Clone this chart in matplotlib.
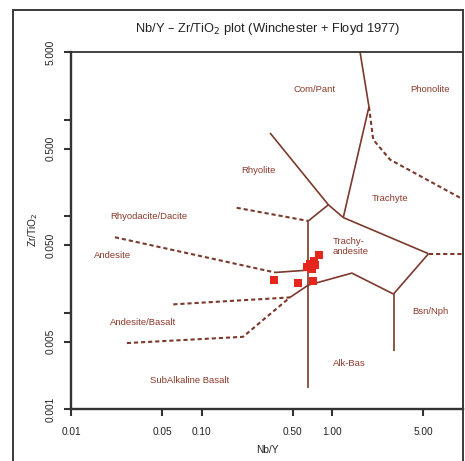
import matplotlib
matplotlib.use("Agg")
import matplotlib.pyplot as plt
from matplotlib.lines import Line2D

plt.rcParams['font.family'] = ['Liberation Sans', 'DejaVu Sans']

# Sample compositions (Nb/Y, Zr/TiO2)
nb_y = [0.80, 0.73, 0.68, 0.64, 0.70, 0.74, 0.36, 0.545, 0.72]
zr_tio2 = [0.0394, 0.0342, 0.0322, 0.0297, 0.0286, 0.0311, 0.0220, 0.0205, 0.0215]

# Field boundaries, solid
solid_lines = {
    "alk_main": [(0.658, 0.0891), (0.658, 0.00167)],
    "rhy_trachy": [(0.658, 0.0891), (0.938, 0.131)],
    "rhy_upper": [(0.335, 0.726), (0.938, 0.131), (1.22, 0.0966)],
    "compant_trachyte": [(1.64, 5.0), (1.92, 1.355), (1.22, 0.0966)],
    "trachyte_ta": [(1.22, 0.0966), (5.49, 0.0408)],
    "ta_bsn": [(5.49, 0.0408), (2.96, 0.0156)],
    "bsn_alk": [(2.96, 0.0156), (2.96, 0.00404)],
    "andesite_ta": [(0.366, 0.0261), (0.658, 0.0276)],
    "ta_lower": [(0.476, 0.0144), (0.658, 0.0193), (1.42, 0.0257), (2.96, 0.0156)],
}

# Field boundaries, dashed
dashed_lines = {
    "rhyodacite_rhyolite": [(0.186, 0.122), (0.658, 0.0891)],
    "andesite_rhyodacite": [(0.0217, 0.0604), (0.366, 0.0261)],
    "andbas_andesite": [(0.0608, 0.0122), (0.476, 0.0144)],
    "subalk_andbas": [(0.0268, 0.00485), (0.208, 0.00563), (0.476, 0.0144)],
    "trachyte_phonolite": [(1.92, 1.355), (2.07, 0.619), (2.78, 0.385), (10.0, 0.15)],
    "phonolite_bsn": [(5.49, 0.0408), (10.0, 0.0408)],
}

# Field names and their positions
field_names = ["Com/Pant", "Phonolite", "Rhyolite", "Trachyte", "Trachy-\nandesite",
               "Rhyodacite/Dacite", "Andesite", "Andesite/Basalt", "Bsn/Nph",
               "Alk-Bas", "SubAlkaline Basalt"]
field_x = [0.74, 5.64, 0.272, 2.78, 1.01, 0.0398, 0.0207, 0.0358, 5.64, 1.35, 0.0807]
field_y = [2.03, 2.03, 0.299, 0.151, 0.0489, 0.100, 0.0388, 0.00785, 0.01026, 0.00297, 0.0020]
field_ha = ["center", "center", "center", "center", "left", "center", "center",
            "center", "center", "center", "center"]

x_ticks = [0.01, 0.05, 0.10, 0.50, 1.00, 5.00]
x_tick_labels = ["0.01", "0.05", "0.10", "0.50", "1.00", "5.00"]
y_ticks = [0.001, 0.005, 0.01, 0.05, 0.1, 0.5, 1.0, 5.0]
y_tick_labels = ["0.001", "0.005", "", "0.050", "", "0.500", "", "5.000"]

W, H = 465, 461
fig = plt.figure(figsize=(W / 100, H / 100), dpi=100)
fig.patch.set_facecolor("white")

# outer frame
frame_kw = dict(color="#3a3a3a", lw=1.4, transform=fig.transFigure)
fx0, fy1, fx1 = 13 / W, 1 - 10 / H, 462.5 / W
fig.add_artist(Line2D([fx0, fx0], [0, fy1], **frame_kw))
fig.add_artist(Line2D([fx0, fx1], [fy1, fy1], **frame_kw))
fig.add_artist(Line2D([fx1, fx1], [0, fy1], **frame_kw))

ax = fig.add_axes([71 / W, 1 - 409.3 / H, (462.5 - 71) / W, (409.3 - 52) / H])
ax.set_xscale("log")
ax.set_yscale("log")
ax.set_xlim(0.01, 10)
ax.set_ylim(0.001, 5)

line_color = "#7b3a2c"
for pts in solid_lines.values():
    xs, ys = zip(*pts)
    ax.plot(xs, ys, color=line_color, lw=1.2, solid_capstyle="butt")
for pts in dashed_lines.values():
    xs, ys = zip(*pts)
    ax.plot(xs, ys, color=line_color, lw=1.5, linestyle=(0, (2.0, 1.4)))

label_color = "#8b3a2a"
for name, x, y, ha in zip(field_names, field_x, field_y, field_ha):
    ax.text(x, y, name, color=label_color, fontsize=6.8, ha=ha, va="center",
            linespacing=1.15)

ax.scatter(nb_y, zr_tio2, marker="s", s=32, color="#e5261c", linewidths=0, zorder=5)

ax.minorticks_off()
ax.set_xticks(x_ticks)
ax.set_xticklabels(x_tick_labels)
ax.set_yticks(y_ticks)
ax.set_yticklabels(y_tick_labels, rotation=90, va="center")
ax.tick_params(axis="both", direction="out", length=5, width=1.5, color="#333333",
               labelsize=7.3, labelcolor="#222222", pad=6)
ax.tick_params(axis="x", pad=8)
for s in ax.spines.values():
    s.set_color("#333333")
    s.set_linewidth(1.3)
ax.spines["left"].set_linewidth(1.7)
ax.spines["bottom"].set_linewidth(1.7)

fig.text(268 / W, 1 - 29 / H, "Nb/Y – Zr/TiO$_2$ plot (Winchester + Floyd 1977)",
         ha="center", va="center", fontsize=9.3, color="#222222")
fig.text(33 / W, 1 - 230 / H, "Zr/TiO$_2$", rotation=90, ha="center", va="center",
         fontsize=7.3, color="#222222")
fig.text(267 / W, 1 - 450 / H, "Nb/Y", ha="center", va="center", fontsize=7.3,
         color="#222222")

fig.savefig("out.png", dpi=100, facecolor="white")
